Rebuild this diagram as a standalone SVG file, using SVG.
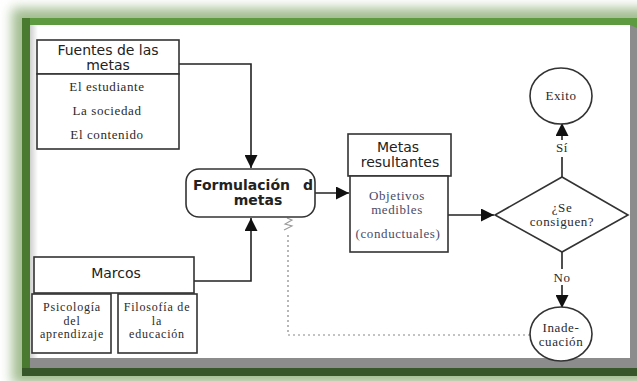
<svg xmlns="http://www.w3.org/2000/svg" width="637" height="381" viewBox="0 0 637 381">
<defs>
<filter id="glow" x="-10%" y="-10%" width="120%" height="120%"><feGaussianBlur stdDeviation="6"/></filter>
<linearGradient id="lshade" x1="0" y1="0" x2="1" y2="0"><stop offset="0" stop-color="#cfcfcf"/><stop offset="1" stop-color="#ffffff"/></linearGradient>
<marker id="ah" viewBox="0 0 10 10" refX="10" refY="5" markerUnits="userSpaceOnUse" markerWidth="13" markerHeight="13" orient="auto"><path d="M0,0 L10,5 L0,10 z" fill="#111"/></marker>
<style>
.box{fill:#fff;stroke:#333;stroke-width:1.6}
.ln{fill:none;stroke:#222;stroke-width:1.6}
.dot{fill:none;stroke:#888;stroke-width:1.2;stroke-dasharray:2 3}
.sans{font-family:"DejaVu Sans",sans-serif;font-size:14px;fill:#222;text-anchor:middle}
.bold{font-weight:bold}
.ser{font-family:"Liberation Serif",serif;font-size:13px;letter-spacing:0.6px;fill:#2a2a2a;text-anchor:middle}
.sm{font-size:12px;letter-spacing:0.8px}
.blue{fill:#4a4a68}
</style>
</defs>
<rect width="637" height="381" fill="#fff"/>
<rect x="12" y="8" width="640" height="376" fill="#a3bd91" filter="url(#glow)"/>
<rect x="22" y="18" width="620" height="358" fill="#4f8734"/>
<rect x="22" y="18" width="620" height="7" fill="#5e9a40"/>
<rect x="22" y="18" width="8" height="358" fill="#4a7a30"/>
<rect x="22" y="368" width="620" height="8" fill="#37572a"/>
<polygon points="30,25 637,25 637,368 30,368" fill="#8c8c8c"/>
<polygon points="630,25 637,25 637,28" fill="#5e9a40"/>
<rect x="30" y="25" width="600" height="333" fill="#fff"/>
<rect x="30" y="25" width="8" height="333" fill="url(#lshade)"/>

<g id="connectors">
<polyline class="ln" points="179,64 251,64 251,168" marker-end="url(#ah)"/>
<polyline class="ln" points="194,281 251,281 251,218" marker-end="url(#ah)"/>
<line class="ln" x1="315" y1="193" x2="349" y2="193" marker-end="url(#ah)"/>
<line class="ln" x1="448" y1="215" x2="494" y2="215" marker-end="url(#ah)"/>
<line class="ln" x1="562" y1="177" x2="562" y2="157"/>
<line class="ln" x1="562" y1="140" x2="562" y2="123" marker-end="url(#ah)"/>
<text class="ser" x="562" y="152">Sí</text>
<line class="ln" x1="562" y1="252" x2="562" y2="269"/>
<line class="ln" x1="562" y1="285" x2="562" y2="308" marker-end="url(#ah)"/>
<text class="ser" x="562" y="282">No</text>
<polyline class="dot" points="530,335 288,335 288,232"/>
<path d="M284,230 L292,226 L285,224 L292,220 L287,218" fill="none" stroke="#999" stroke-width="1.1"/>
</g>

<g id="fuentes">
<rect class="box" x="37" y="40" width="142" height="34"/>
<rect class="box" x="37" y="74" width="142" height="75"/>
<text class="sans" x="108" y="55">Fuentes de las</text>
<text class="sans" x="108" y="70">metas</text>
<text class="ser" x="107" y="91">El estudiante</text>
<text class="ser" x="107" y="115">La sociedad</text>
<text class="ser" x="107" y="139">El contenido</text>
</g>

<g id="formulacion">
<rect class="box" x="186" y="169" width="129" height="48" rx="13"/>
<text class="sans bold" x="193" y="190" style="text-anchor:start">Formulación</text>
<text class="sans bold" x="308" y="190">d</text>
<text class="sans bold" x="258" y="205">metas</text>
</g>

<g id="metas">
<rect class="box" x="348" y="134" width="103" height="42"/>
<rect class="box" x="350" y="176" width="98" height="76"/>
<text class="sans" x="398" y="152">Metas</text>
<text class="sans" x="400" y="167">resultantes</text>
<text class="ser blue" x="397" y="200">Objetivos</text>
<text class="ser blue" x="397" y="214">medibles</text>
<text class="ser blue" x="398" y="238">(conductuales)</text>
</g>

<g id="decision">
<polygon class="box" points="562,177 628,215 562,252 495,215"/>
<text class="ser" x="562" y="212">¿Se</text>
<text class="ser" x="562" y="226">consiguen?</text>
</g>

<g id="exito">
<ellipse class="box" cx="561" cy="96" rx="31" ry="28"/>
<text class="ser" x="561" y="100">Exito</text>
</g>

<g id="inadecuacion">
<ellipse class="box" cx="561" cy="334" rx="31" ry="27"/>
<text class="ser" x="561" y="332">Inade-</text>
<text class="ser" x="561" y="346">cuación</text>
</g>

<g id="marcos">
<rect class="box" x="34" y="257" width="160" height="36"/>
<text class="sans" x="116" y="278">Marcos</text>
</g>

<g id="psicologia">
<rect class="box" x="32" y="294" width="79" height="59"/>
<text class="ser sm" x="72" y="311">Psicología</text>
<text class="ser sm" x="72" y="324.5">del</text>
<text class="ser sm" x="72" y="338">aprendizaje</text>
</g>

<g id="filosofia">
<rect class="box" x="118" y="294" width="79" height="59"/>
<text class="ser sm" x="157" y="311">Filosofía de</text>
<text class="ser sm" x="157" y="324.5">la</text>
<text class="ser sm" x="157" y="338">educación</text>
</g>
</svg>
